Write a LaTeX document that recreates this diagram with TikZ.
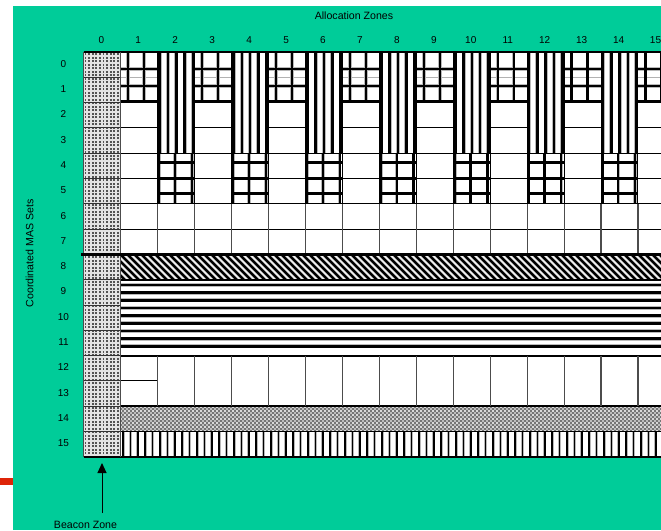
\documentclass[tikz,border=0pt]{standalone}
\usepackage{fontspec}
\setmainfont{Liberation Sans}
\usetikzlibrary{arrows.meta}
\definecolor{bggreen}{RGB}{0,204,153}
\definecolor{markred}{RGB}{222,36,8}
\begin{document}
\begin{tikzpicture}[x=1pt,y=-1pt,
  gridline/.style={preaction={draw=gray!55,line width=3.6pt},draw=black,line width=2.2pt},
  vband/.style={preaction={draw=gray!55,line width=4pt},draw=black,line width=2.6pt},
  dband/.style={preaction={draw=gray!55,line width=3.6pt},draw=black,line width=2.3pt},
  hband/.style={preaction={draw=gray!55,line width=4pt},draw=black,line width=2.6pt},
  vthin/.style={preaction={draw=gray!55,line width=3pt},draw=black,line width=1.7pt},
  rowline/.style={draw=black,line width=1pt},
  beaconline/.style={draw=gray!40!black,line width=0.9pt},
  colline/.style={draw=gray!60!black,line width=1.1pt},
  beacondot/.style={fill=gray!65!black},
  lbl/.style={font=\fontsize{10}{12}\selectfont,inner sep=0pt},
  ttl/.style={font=\fontsize{10.6}{12}\selectfont,inner sep=0pt}]
\useasboundingbox (0,0) rectangle (661,530);
\fill[white] (0,0) rectangle (661,530);
\fill[bggreen] (13,6) rectangle (661,530);
\fill[markred] (0,477.5) rectangle (12.7,484.5);
\begin{scope}
\clip (13,6) rectangle (661,530);
% white cells
\fill[white] (120.65,52) rectangle (674.9,456.8);
% beacon column
\begin{scope}
\clip (83.7,52) rectangle (120.65,456.8);
\fill[gray!22] (83.7,52) rectangle (120.65,456.8);
\foreach \j in {0,...,115}{\foreach \i in {0,...,10}{
  \fill[beacondot] ({84.6+3.6*\i},{53.2+3.5*\j}) rectangle ++(1.8,1.8);}}
\end{scope}
% odd columns, rows 0-1: grid
\foreach \c in {1,3,...,15}{
 \begin{scope}
 \clip ({83.7+36.95*\c},52) rectangle ({83.7+36.95*(\c+1)},102.6);
 \draw[gray!60,line width=0.8pt] ({83.7+36.95*\c},77.3) -- ++(36.95,0);
 \draw[gridline] ({83.7+36.95*\c+7.5},52) -- ++(0,50.6)
   ({83.7+36.95*\c+23.5},52) -- ++(0,50.6)
   ({83.7+36.95*\c},69) -- ++(36.95,0)
   ({83.7+36.95*\c},86) -- ++(36.95,0)
   ({83.7+36.95*\c},101.4) -- ++(36.95,0);
 \end{scope}
}
% even columns: stripes rows 0-3, grid rows 4-5
\foreach \c in {2,4,...,14}{
 \begin{scope}
 \clip ({83.7+36.95*\c},52) rectangle ({83.7+36.95*(\c+1)},153.2);
 \foreach \o in {2,10.3,18.6,26.9,35.2}
   \draw[vband] ({83.7+36.95*\c+\o},52) -- ++(0,101.2);
 \end{scope}
 \begin{scope}
 \clip ({83.7+36.95*\c},153.2) rectangle ({83.7+36.95*(\c+1)},203.8);
 \draw[gridline] ({83.7+36.95*\c+1.5},153.2) -- ++(0,50.6)
   ({83.7+36.95*\c+17.3},153.2) -- ++(0,50.6)
   ({83.7+36.95*\c+34.2},153.2) -- ++(0,50.6)
   ({83.7+36.95*\c},162.5) -- ++(36.95,0)
   ({83.7+36.95*\c},178.5) -- ++(36.95,0)
   ({83.7+36.95*\c},193.5) -- ++(36.95,0);
 \end{scope}
}
% row 8: diagonal
\begin{scope}
\clip (120.65,254.4) rectangle (661,279.7);
\foreach \x in {95,102,...,661} \draw[dband] (\x,250) -- ++(34,34);
\end{scope}
% rows 9-11: horizontal stripes
\begin{scope}
\clip (120.65,279.7) rectangle (661,355.6);
\foreach \j in {0,...,8} \draw[hband] (120.65,{285+7.65*\j}) -- (661,{285+7.65*\j});
\end{scope}
% row 14: crosshatch dots
\begin{scope}
\clip (120.65,406.2) rectangle (661,431.5);
\fill[gray!90!black] (120.65,406.2) rectangle (661,431.5);
\foreach \i in {0,...,135}{\foreach \j in {0,...,6}{
  \fill[white] ({121+4*\i},{407+4*\j}) circle (1.1);
  \fill[white!85!black] ({123+4*\i},{409+4*\j}) circle (1.1);}}
\end{scope}
% row 15: vertical lines
\begin{scope}
\clip (120.65,431.5) rectangle (661,456.8);
\foreach \x in {123,130.4,...,661} \draw[vthin] (\x,431.5) -- (\x,456.8);
\end{scope}
% row borders
\foreach \r in {1,...,15} \draw[beaconline] (83.7,{52+25.3*\r}) -- (120.65,{52+25.3*\r});
\foreach \c in {1,3,...,15}{\foreach \r in {2,3,5}
  \draw[rowline] ({83.7+36.95*\c},{52+25.3*\r}) -- ++(36.95,0);}
\foreach \r in {4,6,7} \draw[rowline] (120.65,{52+25.3*\r}) -- (661,{52+25.3*\r});
\draw[rowline,line width=1.5pt] (83.7,52) -- (661,52);
\draw[rowline,line width=2pt] (120.65,279.7) -- (661,279.7);
\draw[rowline,line width=2.2pt] (120.65,355.6) -- (661,355.6);
\draw[rowline] (120.65,380.9) -- (157.6,380.9);
\draw[rowline,line width=1.5pt] (120.65,406.2) -- (661,406.2);
\draw[rowline] (120.65,431.5) -- (661,431.5);
\draw[rowline,line width=1.5pt] (83.7,456.8) -- (661,456.8);
% column borders
\draw[colline] (83.7,52) -- (83.7,456.8);
\draw[colline] (120.65,52) -- (120.65,456.8);
\foreach \c in {2,...,15}{
  \draw[black,line width=1pt] ({83.7+36.95*\c},52) -- ({83.7+36.95*\c},203.8);
  \draw[colline] ({83.7+36.95*\c},203.8) -- ({83.7+36.95*\c},254.4);
  \draw[colline] ({83.7+36.95*\c},355.6) -- ({83.7+36.95*\c},406.2);}
% thick separator
\draw[black,line width=2.8pt] (81,254.4) -- (661,254.4);
\end{scope}
% labels
\foreach \c in {0,...,15} \node[lbl] (col\c) at ({83.7+36.95*\c+17.6},40.5) {\c};
\foreach \r in {0,...,15} \node[lbl] (row\r) at (63.5,{52+25.3*\r+11.8}) {\r};
\node[ttl] (alloc) at (354,15.3) {Allocation Zones};
\node[ttl,rotate=90] (coord) at (29.5,253.5) {Coordinated MAS Sets};
\node[ttl] (beacon) at (85.5,524.6) {Beacon Zone};
\coordinate (arrowbase) at (102,513);
\coordinate (arrowtip) at (102,463);
\draw[-{Triangle[width=9pt,length=10pt]},line width=1pt] (arrowbase) -- (arrowtip);
\end{tikzpicture}
\end{document}
